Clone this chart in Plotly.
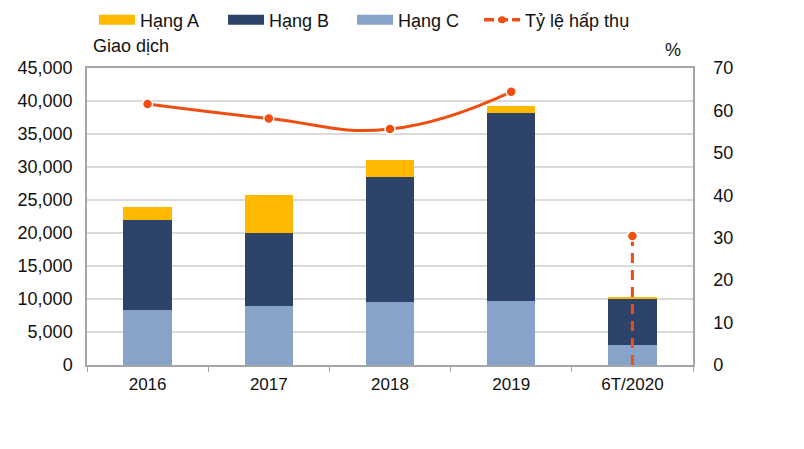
import plotly.graph_objects as go

categories = ["2016", "2017", "2018", "2019", "6T/2020"]
hang_a = [1900, 5700, 2500, 1000, 350]
hang_b = [13700, 11000, 19000, 28500, 6950]
hang_c = [8300, 9000, 9500, 9700, 3000]
ty_le = [61.5, 58.1, 55.6, 64.4, 30.4]

left_ticks = list(range(0, 45001, 5000))
right_ticks = list(range(0, 71, 10))

FONT = "Liberation Sans, Arial, sans-serif"
COL_A = "#FFB900"
COL_B = "#2E4369"
COL_C = "#87A3C9"
COL_L = "#F04E10"

fig = go.Figure()
fig.add_bar(x=categories, y=hang_c, name="Hạng C", marker=dict(color=COL_C, line=dict(width=0)), showlegend=False)
fig.add_bar(x=categories, y=hang_b, name="Hạng B", marker=dict(color=COL_B, line=dict(width=0)), showlegend=False)
fig.add_bar(x=categories, y=hang_a, name="Hạng A", marker=dict(color=COL_A, line=dict(width=0)), showlegend=False)

MARK = dict(size=10, color=COL_L, line=dict(color="white", width=1.5))
# solid smoothed line for full years
fig.add_scatter(x=categories[:4], y=ty_le[:4], yaxis="y2", mode="lines+markers",
                line=dict(color=COL_L, width=3, shape="spline", smoothing=1.3),
                marker=MARK, name="Tỷ lệ hấp thụ", showlegend=False)
# dashed drop line for 6T/2020
fig.add_scatter(x=[categories[4], categories[4]], y=[0, ty_le[4]], yaxis="y2", mode="lines",
                line=dict(color=COL_L, width=3, dash="10px,7px"), showlegend=False, hoverinfo="skip")
fig.add_scatter(x=[categories[4]], y=[ty_le[4]], yaxis="y2", mode="markers",
                marker=MARK, showlegend=False)

# legend entries (line-style swatches like the reference)
for nm, col in [("Hạng A", COL_A), ("Hạng B", COL_B), ("Hạng C", COL_C)]:
    fig.add_scatter(x=[None], y=[None], mode="lines", name=nm, line=dict(color=col, width=10),
                    legend="legend")
fig.add_scatter(x=[None], y=[None], yaxis="y2", mode="lines+markers", name="Tỷ lệ hấp thụ",
                line=dict(color=COL_L, width=3.5, dash="10px,4px"), marker=dict(size=7, color=COL_L),
                legend="legend2")

LEG_Y = 0.973
fig.update_layout(
    width=804, height=449,
    margin=dict(l=79, r=119, t=60, b=92),
    paper_bgcolor="white", plot_bgcolor="white",
    barmode="stack", bargap=0.6,
    font=dict(family=FONT, size=18, color="#111111"),
    showlegend=True,
    legend=dict(orientation="h", x=0.0116, y=LEG_Y, yref="container", xanchor="left",
                yanchor="middle", font=dict(size=18), itemwidth=36, entrywidth=78,
                traceorder="normal", bgcolor="rgba(0,0,0,0)"),
    legend2=dict(orientation="h", x=0.647, y=LEG_Y, yref="container", xanchor="left",
                 yanchor="middle", font=dict(size=18), itemwidth=36,
                 bgcolor="rgba(0,0,0,0)"),
    xaxis=dict(showline=True, linecolor="#A6A6A6", linewidth=1.5, mirror=True,
               ticks="outside", tickson="boundaries", ticklen=5, tickcolor="#A6A6A6",
               tickfont=dict(size=17), showgrid=False, automargin=False,
               ticklabelstandoff=3),
    yaxis=dict(range=[0, 45000], tickvals=left_ticks, tickformat=",", showline=True,
               linecolor="#A6A6A6", linewidth=1.5, gridcolor="#DADADA", gridwidth=1.5,
               tickfont=dict(size=18), ticks="outside", ticklen=9, tickcolor="rgba(0,0,0,0)",
               zeroline=False, automargin=False),
    yaxis2=dict(range=[0, 70], tickvals=right_ticks, overlaying="y", side="right",
                showline=True, linecolor="#A6A6A6", linewidth=1.5, showgrid=False,
                tickfont=dict(size=18), ticks="outside", ticklen=15, tickcolor="rgba(0,0,0,0)",
                zeroline=False, automargin=False),
    annotations=[
        dict(text="Giao dịch", xref="paper", yref="paper", x=0.006, y=1.074, xanchor="left",
             yanchor="middle", showarrow=False, font=dict(size=18)),
        dict(text="%", xref="paper", yref="paper", x=0.9835, y=1.061, xanchor="right",
             yanchor="middle", showarrow=False, font=dict(size=18)),
    ],
)

fig.write_html("out.html")
